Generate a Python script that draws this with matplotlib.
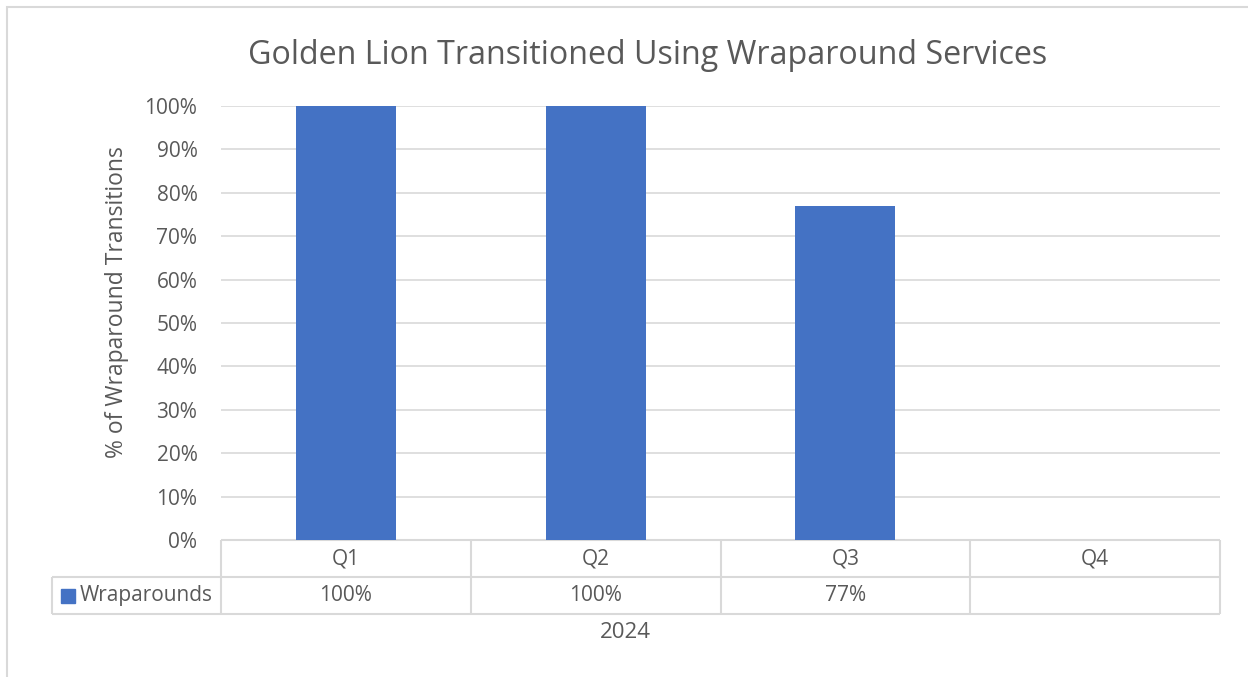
import numpy as np
from matplotlib import pyplot as plt
from matplotlib.patches import Rectangle

# Chart data
quarters = ['Q1', 'Q2', 'Q3', 'Q4']
wraparounds = [1.00, 1.00, 0.77, np.nan]
table_text = ['100%', '100%', '77%', '']
series_name = 'Wraparounds'
year_label = '2024'

plt.rcParams['font.family'] = ['Open Sans', 'DejaVu Sans']
txt = '#595959'
line = '#d9d9d9'
blue = '#4472C4'

W, H = 1248, 677
fig = plt.figure(figsize=(W / 100, H / 100), dpi=100)

# outer chart frame (extends past the right/bottom edges)
fig.patches.append(Rectangle((7 / W, -0.1), 1.2, 1 - 7 / H + 0.1, transform=fig.transFigure,
                             fill=False, edgecolor=line, linewidth=1.5))

# plot area in pixels: x 221..1220, y 106..540
ax = fig.add_axes([221 / W, 1 - 540 / H, 999 / W, 434 / H])
x = np.arange(len(quarters))
ax.bar(x, wraparounds, width=0.4, color=blue, zorder=3)
ax.set_xlim(-0.5, len(quarters) - 0.5)
ax.set_ylim(0, 1.0)
ax.set_yticks(np.arange(0, 1.01, 0.1))
ax.set_yticklabels([f'{int(round(v * 100))}%' for v in np.arange(0, 1.01, 0.1)],
                   fontsize=15, color=txt)
ax.tick_params(axis='y', length=0, pad=17)
ax.set_xticks([])
ax.grid(axis='y', color=line, linewidth=1.2, zorder=0)
for s in ax.spines.values():
    s.set_visible(False)

fig.text(117 / W, 1 - 302 / H, '% of Wraparound Transitions', rotation=90,
         ha='center', va='center', fontsize=16.5, color=txt)

# data table below the plot
rh = 37 / 434
lx = -169 / 999
n = len(quarters)
lw = 1.5
tr = ax.transAxes
kw = dict(transform=tr, color=line, linewidth=lw, clip_on=False, solid_capstyle='butt')
# horizontal lines
ax.plot([0, 1], [0, 0], **kw)
ax.plot([lx, 1], [-rh, -rh], **kw)
ax.plot([lx, 1], [-2 * rh, -2 * rh], **kw)
# vertical lines
ax.plot([lx, lx], [-rh, -2 * rh], **kw)
for i in range(n + 1):
    ax.plot([i / n, i / n], [0, -2 * rh], **kw)

for i, (q, t) in enumerate(zip(quarters, table_text)):
    cx = (i + 0.5) / n
    ax.text(cx, -0.5 * rh, q, transform=tr, ha='center', va='center', fontsize=15, color=txt)
    ax.text(cx, -1.5 * rh, t, transform=tr, ha='center', va='center', fontsize=15, color=txt)

# legend key inside the row-label cell
ax.add_patch(Rectangle((lx + 9 / 999, -1.5 * rh - 7 / 434), 14 / 999, 14 / 434, transform=tr,
                       color=blue, clip_on=False))
ax.text(lx + 28 / 999, -1.5 * rh, series_name, transform=tr, ha='left', va='center',
        fontsize=15, color=txt)

fig.text(625 / W, 1 - 633 / H, year_label, ha='center', va='center', fontsize=16, color=txt)

fig.text(648 / W, 1 - 55 / H, 'Golden Lion Transitioned Using Wraparound Services',
         ha='center', va='center', fontsize=23.2, color=txt)

fig.savefig('out.png', dpi=100)
